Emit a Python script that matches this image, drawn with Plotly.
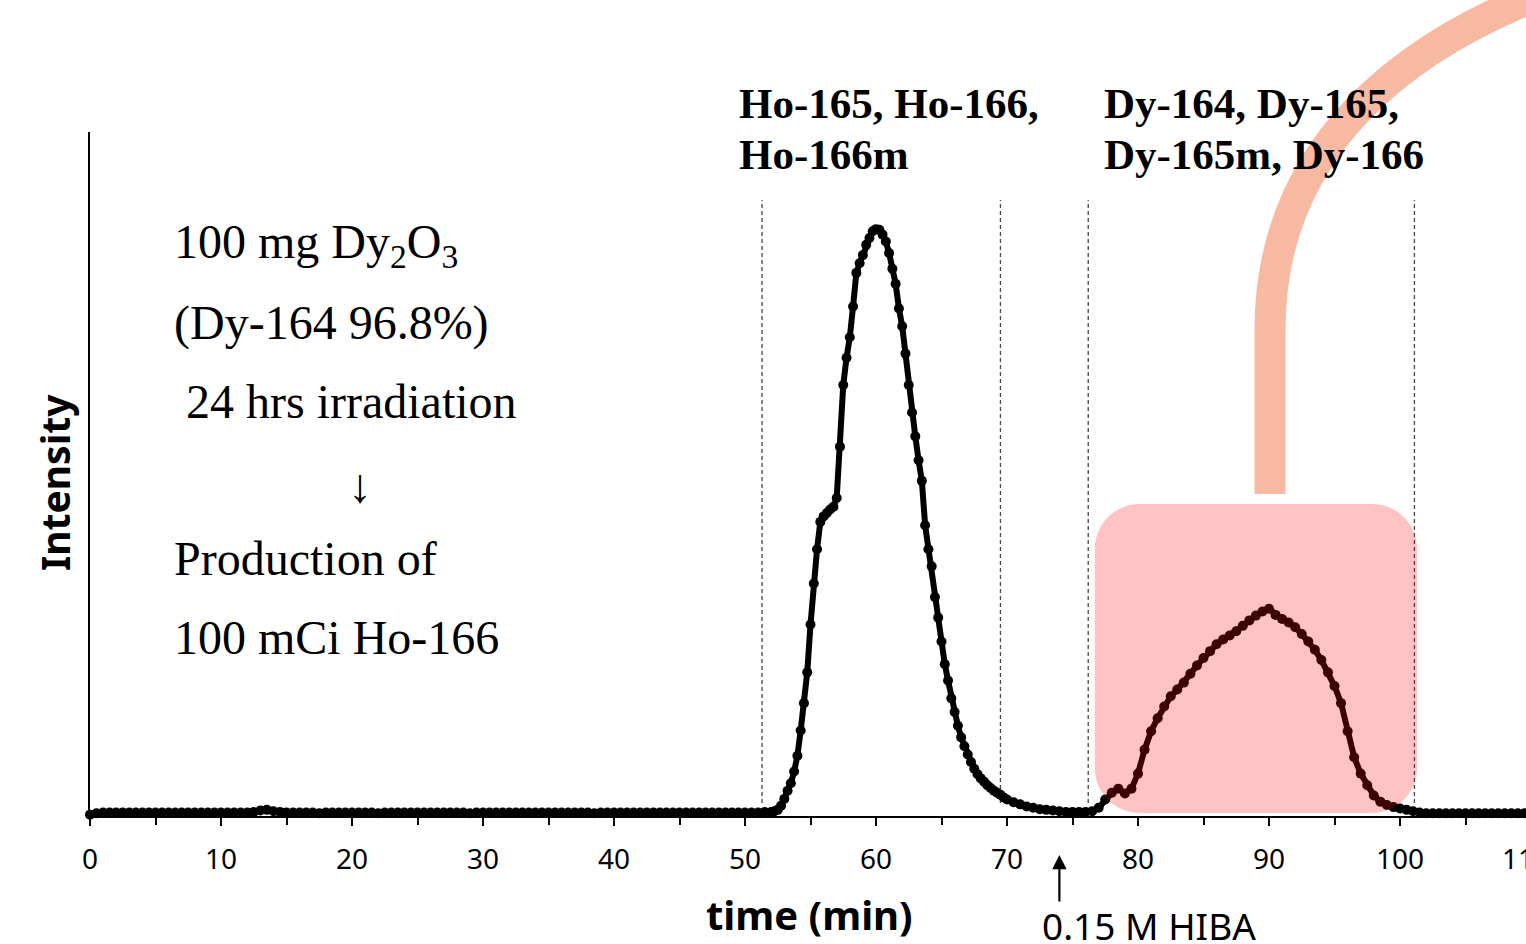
import numpy as np
import plotly.graph_objects as go

# ---------------- data ----------------
# baseline region, sampled every 0.5 min (0 .. 51.5)
t_base = np.arange(0, 52, 0.5)
v_base = [
    0.002, 0.004, 0.005, 0.005, 0.005, 0.005, 0.005, 0.005,
    0.005, 0.005, 0.005, 0.005, 0.005, 0.005, 0.005, 0.005,
    0.005, 0.005, 0.005, 0.005, 0.005, 0.005, 0.005, 0.005,
    0.005, 0.006, 0.008, 0.009, 0.007, 0.006, 0.005, 0.005,
    0.005, 0.005, 0.005, 0.004, 0.005, 0.005, 0.005, 0.005,
    0.005, 0.005, 0.005, 0.005, 0.004, 0.005, 0.005, 0.005,
    0.005, 0.005, 0.005, 0.005, 0.005, 0.005, 0.005, 0.005,
    0.005, 0.005, 0.004, 0.005, 0.005, 0.005, 0.005, 0.005,
    0.005, 0.005, 0.005, 0.005, 0.005, 0.005, 0.005, 0.005,
    0.005, 0.005, 0.005, 0.005, 0.005, 0.004, 0.005, 0.005,
    0.005, 0.005, 0.005, 0.005, 0.005, 0.005, 0.005, 0.005,
    0.005, 0.005, 0.005, 0.005, 0.005, 0.005, 0.005, 0.005,
    0.005, 0.005, 0.005, 0.005, 0.005, 0.005, 0.005, 0.006,
]
# Ho peak region, sampled every 0.25 min (52 .. 69.75)
t_ho = np.arange(52, 70, 0.25)
v_ho = [
    0.006, 0.007, 0.009, 0.015, 0.025, 0.037, 0.048, 0.065,
    0.088, 0.125, 0.165, 0.210, 0.280, 0.340, 0.390, 0.430,
    0.438, 0.443, 0.448, 0.452, 0.465, 0.540, 0.630, 0.670,
    0.700, 0.745, 0.794, 0.808, 0.820, 0.835, 0.845, 0.855,
    0.858, 0.857, 0.850, 0.840, 0.823, 0.800, 0.778, 0.742,
    0.716, 0.676, 0.630, 0.590, 0.555, 0.520, 0.490, 0.425,
    0.390, 0.365, 0.320, 0.290, 0.255, 0.222, 0.198, 0.172,
    0.152, 0.132, 0.115, 0.102, 0.090, 0.079, 0.069, 0.061,
    0.055, 0.050, 0.045, 0.041, 0.037, 0.034, 0.031, 0.027,
]
# tail and Dy peak region, sampled every 0.5 min (70 .. 109.5)
t_dy = np.arange(70, 110, 0.5)
v_dy = [
    0.024, 0.020, 0.017, 0.014, 0.012, 0.010, 0.009, 0.008,
    0.007, 0.006, 0.006, 0.006, 0.006, 0.007, 0.012, 0.024,
    0.034, 0.040, 0.033, 0.040, 0.062, 0.097, 0.124, 0.143,
    0.160, 0.175, 0.185, 0.195, 0.208, 0.220, 0.231, 0.241,
    0.251, 0.258, 0.264, 0.270, 0.278, 0.286, 0.293, 0.299,
    0.303, 0.294, 0.288, 0.283, 0.276, 0.266, 0.255, 0.243,
    0.228, 0.210, 0.190, 0.165, 0.124, 0.086, 0.062, 0.045,
    0.030, 0.021, 0.016, 0.013, 0.011, 0.009, 0.007, 0.005,
    0.004, 0.004, 0.004, 0.004, 0.004, 0.004, 0.004, 0.004,
    0.004, 0.004, 0.004, 0.004, 0.004, 0.004, 0.004, 0.004,
]

time_min = list(t_base) + list(t_ho) + list(t_dy)
intensity = v_base + v_ho + v_dy

x_ticks = [0, 10, 20, 30, 40, 50, 60, 70, 80, 90, 100]
fraction_bounds = [51.3, 69.5, 76.2, 101.1]   # dashed cut lines (min)
hiba_time = 74.0                               # 0.15 M HIBA switch (min)

# ---------------- layout helpers ----------------
W, H = 1526, 944
ML, MT, MB = 90, 132, 128
PW, PH = W - ML, H - MT - MB
X_PER_PX = 1 / 13.1
XMAX = PW * X_PER_PX


def px(xp):
    return (xp - ML) / PW


def py(yp):
    return (H - MB - yp) / PH


SERIF = "Liberation Serif"
SANS = "Noto Sans"

fig = go.Figure()
fig.add_trace(go.Scatter(
    x=time_min, y=intensity, mode="lines+markers",
    line=dict(color="black", width=6),
    marker=dict(color="black", size=10),
    cliponaxis=False, showlegend=False, hoverinfo="skip",
))

shapes = []
# dashed fraction boundaries
for xb in fraction_bounds:
    shapes.append(dict(type="line", xref="x", yref="paper", x0=xb, x1=xb,
                       y0=py(803), y1=py(200), layer="below",
                       line=dict(color="rgb(70,70,70)", width=1.3, dash="4px,3px")))

# rounded pink box over the Dy fraction
bx0, bx1 = 76.7, 101.3
by0, by1 = py(813), py(504)
rx, ry = 45 * X_PER_PX, 45 / PH
k = 0.45
path = (f"M {bx0+rx},{by0} L {bx1-rx},{by0} "
        f"C {bx1-rx*k},{by0} {bx1},{by0+ry*k} {bx1},{by0+ry} "
        f"L {bx1},{by1-ry} "
        f"C {bx1},{by1-ry*k} {bx1-rx*k},{by1} {bx1-rx},{by1} "
        f"L {bx0+rx},{by1} "
        f"C {bx0+rx*k},{by1} {bx0},{by1-ry*k} {bx0},{by1-ry} "
        f"L {bx0},{by0+ry} "
        f"C {bx0},{by0+ry*k} {bx0+rx*k},{by0} {bx0+rx},{by0} Z")
shapes.append(dict(type="path", xref="x", yref="y", path=path, layer="above",
                   fillcolor="rgba(255,0,0,0.235)", line=dict(width=0)))

# orange arc leading up and out of the frame
arc = (f"M {px(1270)},{py(494)} L {px(1270)},{py(330)} "
       f"C {px(1270)},{py(150)} {px(1400)},{py(40)} {px(1580)},{py(-20)}")
shapes.append(dict(type="path", xref="paper", yref="paper", path=arc, layer="above",
                   line=dict(color="rgba(240,100,50,0.45)", width=31)))

ann = []


def txt(text, x, y, size, family, bold=False, xanchor="left", **kw):
    ann.append(dict(text=text, x=x, y=y, xref="paper", yref="paper",
                    xanchor=xanchor, yanchor="middle", showarrow=False,
                    font=dict(size=size, family=family, color="black",
                              weight="bold" if bold else "normal"), **kw))


# fraction labels
txt("Ho-165, Ho-166,", px(737), py(104), 43, SERIF, bold=True)
txt("Ho-166m", px(737), py(154), 43, SERIF, bold=True)
txt("Dy-164, Dy-165,", px(1102), py(104), 43, SERIF, bold=True)
txt("Dy-165m, Dy-166", px(1102), py(154), 43, SERIF, bold=True)

# sample description
txt("100 mg Dy<sub>2</sub>O<sub>3</sub>", px(172), py(245), 48, SERIF)
txt("(Dy-164 96.8%)", px(172), py(323), 48, SERIF)
txt(" 24 hrs irradiation", px(172), py(401), 48, SERIF)
txt("↓", px(360), py(485), 48, SERIF, xanchor="center")
txt("Production of", px(172), py(558), 48, SERIF)
txt("100 mCi Ho-166", px(172), py(637), 48, SERIF)

# axis titles
txt("time (min)", px(809), py(914), 40, SANS, bold=True, xanchor="center")
txt("Intensity", px(55), py(483), 39, SANS, bold=True, xanchor="center", textangle=-90)

# cut-off 110 tick label at the right edge
txt("110", px(1526), py(858), 28, SANS, xanchor="center")

# HIBA arrow and label
ann.append(dict(x=hiba_time, y=py(855), xref="x", yref="paper", text="",
                showarrow=True, ax=0, ay=48, axref="pixel", ayref="pixel",
                arrowhead=2, arrowsize=1.3, arrowwidth=2.2, arrowcolor="black"))
txt("0.15 M HIBA", px(1040), py(926), 37, SANS)

fig.update_layout(
    width=W, height=H,
    margin=dict(l=ML, r=0, t=MT, b=MB, pad=0),
    paper_bgcolor="white", plot_bgcolor="white",
    shapes=shapes, annotations=ann,
    xaxis=dict(range=[0, XMAX], showgrid=False, zeroline=False,
               showline=True, linecolor="black", linewidth=2.2,
               ticks="outside", ticklen=8, tickwidth=2, tickcolor="black",
               tickvals=x_ticks, ticktext=[str(v) for v in x_ticks],
               tickfont=dict(size=28, family=SANS, color="black"),
               ticklabelstandoff=9,
               minor=dict(ticks="outside", ticklen=7, tickwidth=1.6,
                          tickcolor="black", dtick=5, tick0=0, showgrid=False)),
    yaxis=dict(range=[0, 1], showgrid=False, zeroline=False,
               showline=True, linecolor="black", linewidth=2,
               ticks="", showticklabels=False),
)

fig.write_html("out.html", config={"displayModeBar": False},
               post_script="document.body.style.margin='0px';document.body.style.overflow='hidden';")
